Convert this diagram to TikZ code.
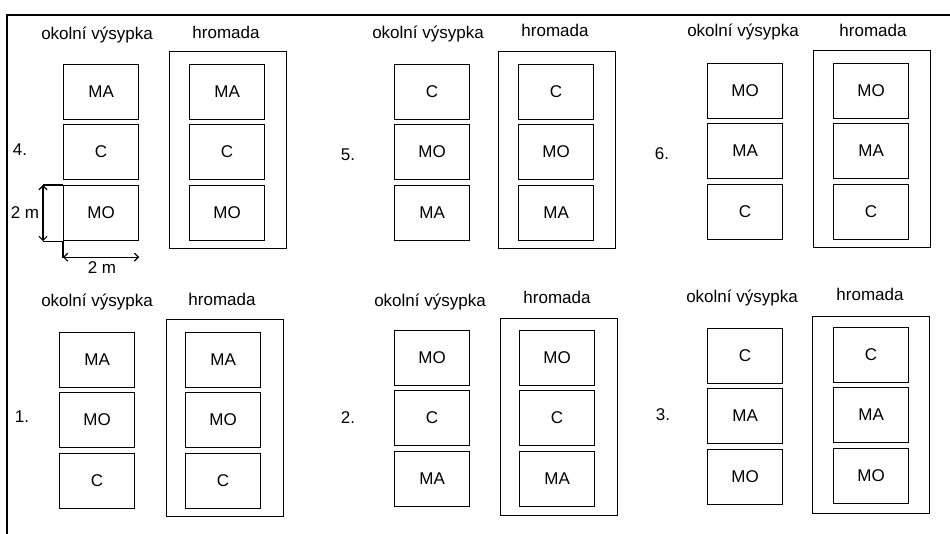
\documentclass[tikz,border=0pt]{standalone}
\usepackage{fontspec}
\setmainfont{Liberation Sans}
\usetikzlibrary{arrows.meta}

% three stacked cells: name, left x, top y, texts top/middle/bottom
\newcommand\cellstack[6]{%
  \node[cell, anchor=north west] (#1a) at (#2,#3) {#4};
  \node[cell, anchor=north west] (#1b) at (#2,#3+60) {#5};
  \node[cell, anchor=north west] (#1c) at (#2,#3+121) {#6};
}

\begin{document}
\begin{tikzpicture}[x=1pt, y=-1pt,
  font=\fontsize{17}{20}\selectfont,
  cell/.style={draw, line width=1.2pt, rectangle, inner sep=0pt,
    minimum width=75pt, minimum height=55pt},
  heap/.style={draw, line width=1.2pt, rectangle, inner sep=0pt,
    minimum width=117pt, minimum height=197pt},
  head/.style={anchor=base, inner sep=0pt},
  num/.style={inner sep=0pt},
  dimline/.style={line width=1.2pt},
  dimarrow/.style={line width=1.2pt,
    {Straight Barb[length=4pt,width=8pt]}-{Straight Barb[length=4pt,width=8pt]}}]

\useasboundingbox (0,0) rectangle (950,534);

% page frame (top and left rules)
\draw[line width=2pt] (950,15) -- (7,15) -- (7,534);

% ---- variant 4 ----
\node[head] (h4l) at (97,40) {okolní výsypka};
\node[head] (h4r) at (226,39) {hromada};
\node[num] (n4) at (20,150) {4.};
\node[heap, anchor=north west] (p4H) at (169,51) {};
\cellstack{p4L}{63}{64}{MA}{C}{MO}
\cellstack{p4R}{189}{64}{MA}{C}{MO}

% dimensions of one cell
\draw[dimline] ([xshift=-20pt]p4Lc.north west) coordinate (dv1) -- (p4Lc.north west);
\draw[dimline] ([xshift=-20pt]p4Lc.south west) coordinate (dv2) -- (p4Lc.south west);
\draw[dimarrow] (dv1) -- (dv2);
\draw[dimline] (p4Lc.south west) -- ([yshift=-17pt]p4Lc.south west);
\draw[dimarrow] ([yshift=-16pt]p4Lc.south west) coordinate (dh1)
  -- ([yshift=-16pt]p4Lc.south east) coordinate (dh2);
\node[num] (dimv) at (25,213) {2 m};
\node[num] (dimh) at (102,268) {2 m};

% ---- variant 5 ----
\node[head] (h5l) at (428,39) {okolní výsypka};
\node[head] (h5r) at (555,37) {hromada};
\node[num] (n5) at (348,155) {5.};
\node[heap, anchor=north west] (p5H) at (498,51) {};
\cellstack{p5L}{394}{64}{C}{MO}{MA}
\cellstack{p5R}{518}{64}{C}{MO}{MA}

% ---- variant 6 ----
\node[head] (h6l) at (743,37) {okolní výsypka};
\node[head] (h6r) at (873,37) {hromada};
\node[num] (n6) at (662,154) {6.};
\node[heap, anchor=north west] (p6H) at (813,50) {};
\cellstack{p6L}{707}{63}{MO}{MA}{C}
\cellstack{p6R}{833}{63}{MO}{MA}{C}

% ---- variant 1 ----
\node[head] (h1l) at (97,307) {okolní výsypka};
\node[head] (h1r) at (222,306) {hromada};
\node[num] (n1) at (22,417) {1.};
\node[heap, anchor=north west] (p1H) at (166,319) {};
\cellstack{p1L}{59}{332}{MA}{MO}{C}
\cellstack{p1R}{185}{332}{MA}{MO}{C}

% ---- variant 2 ----
\node[head] (h2l) at (430,307) {okolní výsypka};
\node[head] (h2r) at (557,304) {hromada};
\node[num] (n2) at (348,418) {2.};
\node[heap, anchor=north west] (p2H) at (500,318) {};
\cellstack{p2L}{394}{330}{MO}{C}{MA}
\cellstack{p2R}{519}{330}{MO}{C}{MA}

% ---- variant 3 ----
\node[head] (h3l) at (742,303) {okolní výsypka};
\node[head] (h3r) at (870,301) {hromada};
\node[num] (n3) at (663,415) {3.};
\node[heap, anchor=north west] (p3H) at (812,316) {};
\cellstack{p3L}{707}{328}{C}{MA}{MO}
\cellstack{p3R}{833}{327}{C}{MA}{MO}

\end{tikzpicture}
\end{document}
